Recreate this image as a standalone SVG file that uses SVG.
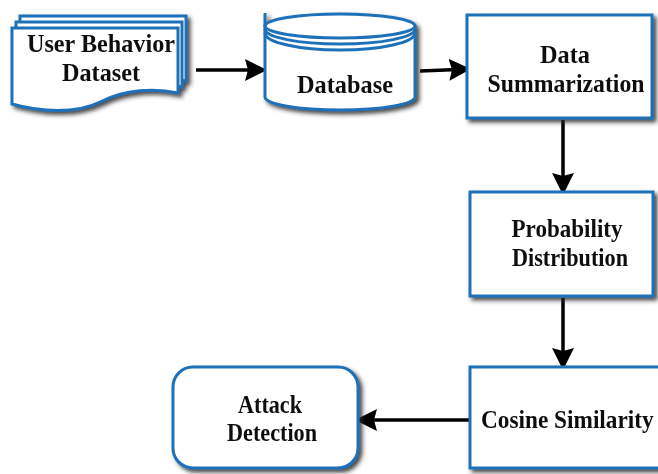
<svg xmlns="http://www.w3.org/2000/svg" width="658" height="474" viewBox="0 0 658 474">
  <style>
    .shape { fill: #ffffff; stroke: #1f71b8; stroke-width: 3; }
    .rim { fill: none; stroke: #1f71b8; stroke-width: 3; }
    .lbl { font-family: "Liberation Serif", "Times New Roman", serif; font-weight: bold; font-size: 26px; fill: #111111; text-anchor: middle; }
    .conn { stroke: #000000; stroke-width: 3.5; fill: none; marker-end: url(#head); }
  </style>
  <defs>
    <filter id="shadow" x="-10%" y="-10%" width="130%" height="130%">
      <feDropShadow dx="3" dy="3" stdDeviation="2" flood-color="#2a2a2a" flood-opacity="0.85"/>
    </filter>
    <marker id="head" markerUnits="userSpaceOnUse" markerWidth="26" markerHeight="26" refX="22" refY="11" orient="auto">
      <path d="M0,0 L22,11 L0,22 L3,11 Z" fill="#000000"/>
    </marker>
  </defs>

  <rect width="658" height="474" fill="#ffffff"/>

  <!-- connectors -->
  <g id="connectors">
    <line class="conn" x1="196" y1="70" x2="267" y2="70"/>
    <line class="conn" x1="420" y1="71" x2="471" y2="69"/>
    <line class="conn" x1="563" y1="120" x2="563" y2="195"/>
    <line class="conn" x1="563" y1="298" x2="563" y2="370"/>
    <line class="conn" x1="470" y1="420" x2="355" y2="420"/>
  </g>

  <!-- stacked document -->
  <g id="user-behavior-dataset" filter="url(#shadow)">
    <path class="shape" d="M20,16 L186,16 L186,81 C163,76 133,77 108,90 C84,102 48,100 20,92 Z"/>
    <path class="shape" d="M16,22 L182,22 L182,87 C159,82 129,83 104,96 C80,108 44,106 16,98 Z"/>
    <path class="shape" d="M12,28 L178,28 L178,93 C155,88 125,89 100,102 C76,114 40,112 12,104 Z"/>
    <text class="lbl" x="101" y="52" textLength="148" lengthAdjust="spacingAndGlyphs">User Behavior</text>
    <text class="lbl" x="101" y="81" textLength="78" lengthAdjust="spacingAndGlyphs">Dataset</text>
  </g>

  <!-- cylinder -->
  <g id="database" filter="url(#shadow)">
    <path class="shape" d="M265,27 L265,97 A75,13 0 0 0 415,97 L415,27 Z"/>
    <ellipse class="shape" cx="340" cy="26" rx="75" ry="12"/>
    <path class="rim" d="M265,29 A75,15 0 0 0 415,29"/>
    <path class="rim" d="M265,33 A75,17 0 0 0 415,33"/>
    <line class="rim" x1="265" y1="13" x2="265" y2="27"/>
    <text class="lbl" x="345" y="93" textLength="96" lengthAdjust="spacingAndGlyphs">Database</text>
  </g>

  <g id="data-summarization" filter="url(#shadow)">
    <rect class="shape" x="467" y="15" width="185" height="103"/>
    <text class="lbl" x="565" y="63" textLength="50" lengthAdjust="spacingAndGlyphs">Data</text>
    <text class="lbl" x="566" y="92" textLength="157" lengthAdjust="spacingAndGlyphs">Summarization</text>
  </g>

  <g id="probability-distribution" filter="url(#shadow)">
    <rect class="shape" x="470" y="192" width="183" height="104"/>
    <text class="lbl" x="567" y="237" textLength="111" lengthAdjust="spacingAndGlyphs">Probability</text>
    <text class="lbl" x="570" y="266" textLength="116" lengthAdjust="spacingAndGlyphs">Distribution</text>
  </g>

  <g id="cosine-similarity" filter="url(#shadow)">
    <rect class="shape" x="470" y="367" width="192" height="101"/>
    <text class="lbl" transform="translate(481,428) scale(1,1.12)" x="0" y="0" style="text-anchor:start; font-size:23.3px">Cosine Similarity</text>
  </g>

  <g id="attack-detection" filter="url(#shadow)">
    <rect class="shape" x="173" y="367" width="185" height="101" rx="20" ry="20"/>
    <text class="lbl" x="270" y="413" textLength="64" lengthAdjust="spacingAndGlyphs">Attack</text>
    <text class="lbl" x="272" y="441" textLength="90" lengthAdjust="spacingAndGlyphs">Detection</text>
  </g>
</svg>
